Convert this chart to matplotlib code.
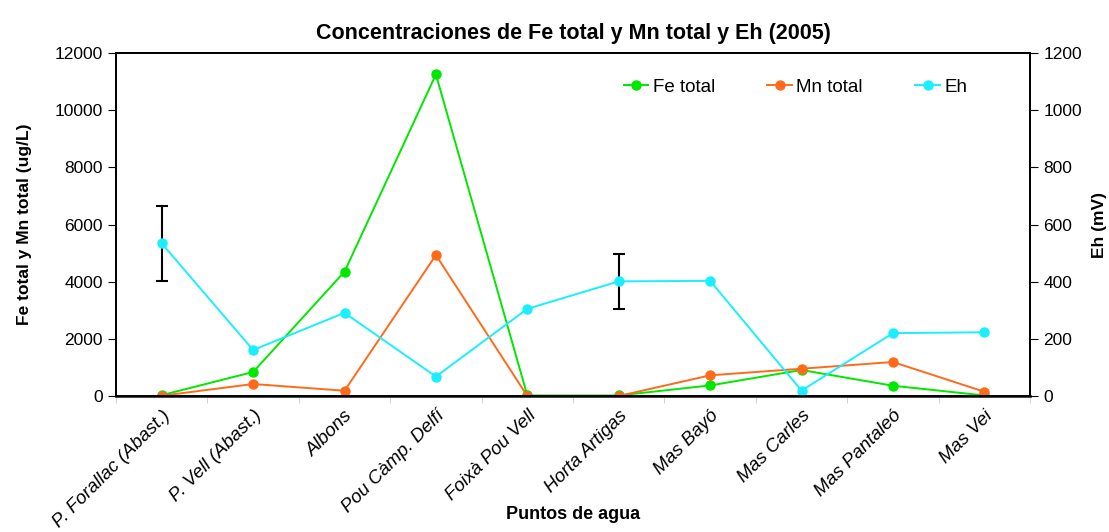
import numpy as np
import matplotlib.pyplot as plt

plt.rcParams['font.family'] = ['Liberation Sans', 'DejaVu Sans']

puntos = ['P. Forallac (Abast.)', 'P. Vell (Abast.)', 'Albons', 'Pou Càmp. Delfí',
          'Foixà Pou Vell', 'Horta Artigas', 'Mas Bayó', 'Mas Carles',
          'Mas Pantaleó', 'Mas Vei']
fe_total = [30, 840, 4350, 11250, 20, 20, 370, 910, 360, 20]
mn_total = [10, 420, 185, 4930, 0, 0, 724, 955, 1190, 150]
eh = [534, 161, 291, 68, 305, 401, 403, 19, 220, 223]
eh_err = [130, 0, 0, 0, 0, 95, 0, 0, 0, 0]

c_fe = '#00e800'
c_mn = '#ff6a1a'
c_eh = '#1aeeff'

fig = plt.figure(figsize=(11.09, 5.32), dpi=100)
ax = fig.add_axes([0.1046, 0.2556, 0.8242, 0.6448])
ax2 = ax.twinx()

x = np.arange(len(puntos))
l1, = ax.plot(x, fe_total, '-o', color=c_fe, lw=1.4, ms=6.5, label='Fe total')
l2, = ax.plot(x, mn_total, '-o', color=c_mn, lw=1.4, ms=6.5, label='Mn total')

# error bars only where a deviation was measured
err = np.array(eh_err)
sel = err > 0
ax2.errorbar(x[sel], np.array(eh)[sel], yerr=err[sel], fmt='none',
             ecolor='black', elinewidth=1.5, capsize=4, capthick=1.5, zorder=1)
l3, = ax2.plot(x, eh, '-o', color=c_eh, lw=1.4, ms=6.5, label='Eh', zorder=2)

ax.set_xlim(-0.5, len(puntos) - 0.5)
ax.set_ylim(0, 12000)
ax2.set_ylim(0, 1200)
ax.set_yticks(range(0, 12001, 2000))
ax2.set_yticks(range(0, 1201, 200))

ax.set_xticks(x)
ax.set_xticklabels(puntos, rotation=45, ha='right', rotation_mode='anchor',
                   style='italic', fontsize=13.5)
ax.set_xticks(np.arange(-0.5, len(puntos), 1), minor=True)
ax.tick_params(axis='x', which='major', length=0, pad=8)
ax.tick_params(axis='x', which='minor', length=5, color='#cccccc')
ax.tick_params(axis='y', labelsize=12.5, length=6)
ax2.tick_params(axis='y', labelsize=12.5, length=6)

for a in (ax, ax2):
    for s in a.spines.values():
        s.set_linewidth(1.3)
ax.spines['bottom'].set_color('#333333')
ax.spines['bottom'].set_linewidth(2)

ax.set_ylabel('Fe total y Mn total (ug/L)', fontsize=12.5, fontweight='bold', labelpad=16)
ax2.set_ylabel('Eh (mV)', fontsize=12.5, fontweight='bold', labelpad=7)
ax.set_xlabel('Puntos de agua', fontsize=13, fontweight='bold')
ax.xaxis.set_label_coords(0.5, -0.32)
ax.set_title('Concentraciones de Fe total y Mn total y Eh (2005)',
             fontsize=15.5, fontweight='bold', pad=10)

ax2.legend(handles=[l1, l2, l3], loc='upper right', ncol=3, frameon=False,
           fontsize=13.5, bbox_to_anchor=(0.95, 0.975), columnspacing=2.8,
           handlelength=1.3, handletextpad=0.25)

fig.savefig('out.png', dpi=100)
